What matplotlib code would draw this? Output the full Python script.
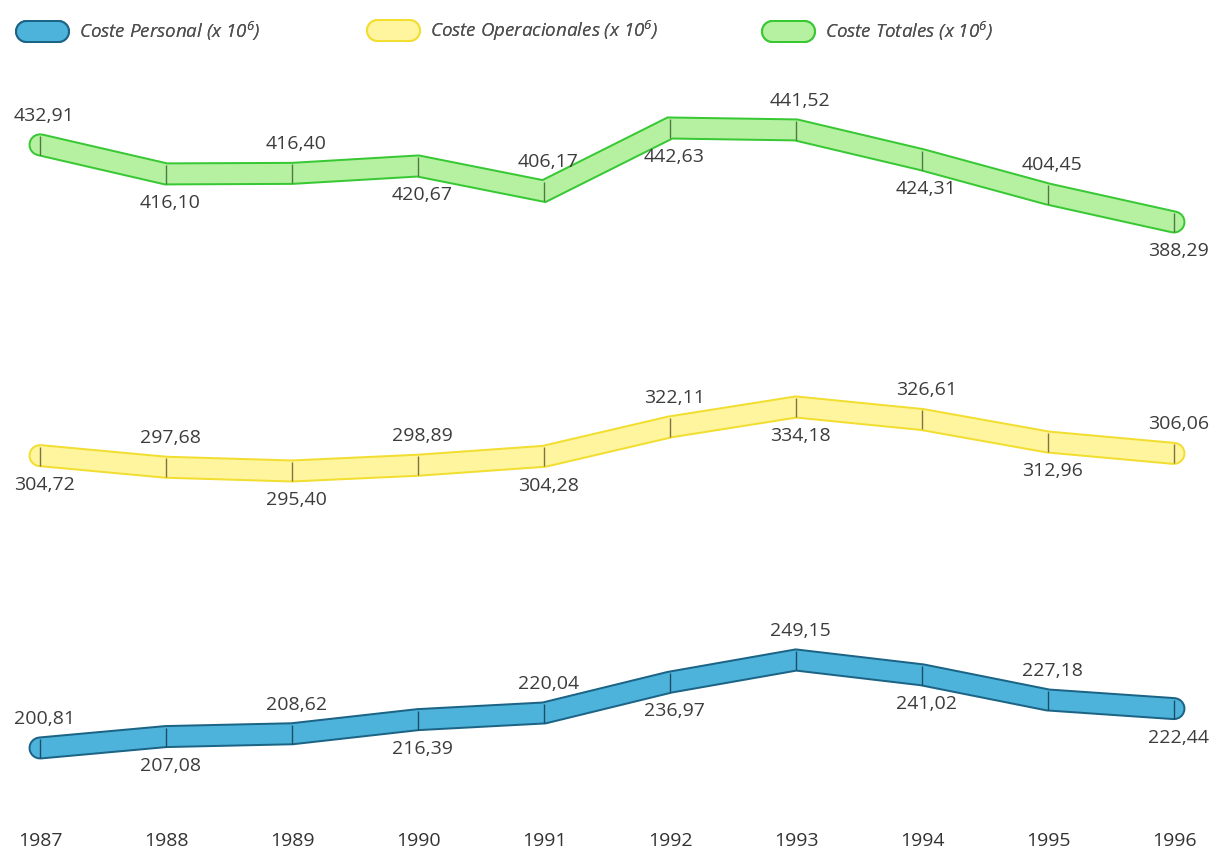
import matplotlib
matplotlib.use("Agg")
import matplotlib.pyplot as plt
from matplotlib.legend_handler import HandlerTuple

# ---------------- data ----------------
years = [1987, 1988, 1989, 1990, 1991, 1992, 1993, 1994, 1995, 1996]
coste_totales = [432.91, 416.10, 416.40, 420.67, 406.17, 442.63, 441.52, 424.31, 404.45, 388.29]
coste_operacionales = [304.72, 297.68, 295.40, 298.89, 304.28, 322.11, 334.18, 326.61, 312.96, 306.06]
coste_personal = [200.81, 207.08, 208.62, 216.39, 220.04, 236.97, 249.15, 241.02, 227.18, 222.44]
label_totales = r"Coste Totales (x 10$^{6}$)"
label_operacionales = r"Coste Operacionales (x 10$^{6}$)"
label_personal = r"Coste Personal (x 10$^{6}$)"

# ---------------- style ----------------
plt.rcParams["font.family"] = ["Open Sans", "DejaVu Sans"]
plt.rcParams["mathtext.fontset"] = "custom"
plt.rcParams["mathtext.rm"] = "Open Sans:italic"
plt.rcParams["mathtext.it"] = "Open Sans:italic"

W, H = 1216, 855
fig = plt.figure(figsize=(W / 100, H / 100), dpi=100)
fig.patch.set_facecolor("white")

# x mapping: 1987 -> 40 px, 126 px per year
PX_PER_YEAR = 126.0
x0 = years[0] - 40 / PX_PER_YEAR
x1 = x0 + W / PX_PER_YEAR


def make_panel(top_px, bottom_px, px_per_unit, ref_val, ref_px):
    ax = fig.add_axes([0, 1 - bottom_px / H, 1, (bottom_px - top_px) / H])
    ax.set_xlim(x0, x1)
    ax.set_ylim(ref_val - (bottom_px - ref_px) / px_per_unit,
                ref_val + (ref_px - top_px) / px_per_unit)
    ax.set_facecolor("none")
    for s in ax.spines.values():
        s.set_visible(False)
    ax.set_yticks([])
    ax.set_xticks([])
    return ax


OUTER_LW = 23 * 72 / 100
INNER_LW = 19 * 72 / 100


def band(ax, values, edge, fill, tickc, first_above):
    outer, = ax.plot(years, values, color=edge, lw=OUTER_LW,
                     solid_capstyle="round", solid_joinstyle="miter", zorder=2)
    inner, = ax.plot(years, values, color=fill, lw=INNER_LW,
                     solid_capstyle="round", solid_joinstyle="miter", zorder=3)
    ax.plot(years, values, ls="none", marker="|", markersize=19 * 72 / 100,
            markeredgewidth=1.0, color=tickc, zorder=4)
    for i, (x, v) in enumerate(zip(years, values)):
        above = (i % 2 == 0) == first_above
        dy = 21 if above else -21
        ax.annotate(f"{v:.2f}".replace(".", ","), (x, v),
                    xytext=(3, dy), textcoords="offset points",
                    ha="center", va="center", fontsize=14,
                    color="#3c3c3c", annotation_clip=False, zorder=5)
    return outer, inner


ax_g = make_panel(60, 300, 1.73, 442.63, 128)
ax_y = make_panel(300, 560, 1.65, 334.18, 407)
ax_b = make_panel(560, 828, 1.82, 249.15, 660)

h_g = band(ax_g, coste_totales, "#38c834", "#b6f1a2", "#4d7a40", True)
h_y = band(ax_y, coste_operacionales, "#f2de30", "#fff59e", "#7d7440", False)
h_b = band(ax_b, coste_personal, "#1c6486", "#4eb3db", "#1d4d66", True)

# year axis
ax_b.set_xticks(years)
ax_b.set_xticklabels([str(y) for y in years], fontsize=14, color="#333333")
ax_b.tick_params(axis="x", length=0, pad=3)

# legend: one entry per series, placed like the reference
for handle, label, left_px in [(h_b, label_personal, 26),
                               (h_y, label_operacionales, 377),
                               (h_g, label_totales, 772)]:
    leg = fig.legend(handles=[handle], labels=[label],
                     handler_map={tuple: HandlerTuple(ndivide=1, pad=0)},
                     loc="center left", bbox_to_anchor=(left_px / W, 1 - 31 / H),
                     frameon=False, handlelength=1.7, handletextpad=1.15,
                     borderpad=0, borderaxespad=0,
                     prop={"style": "italic", "size": 13.5}, labelcolor="#505050")
    fig.add_artist(leg)

fig.savefig("out.png", dpi=100, facecolor="white")
